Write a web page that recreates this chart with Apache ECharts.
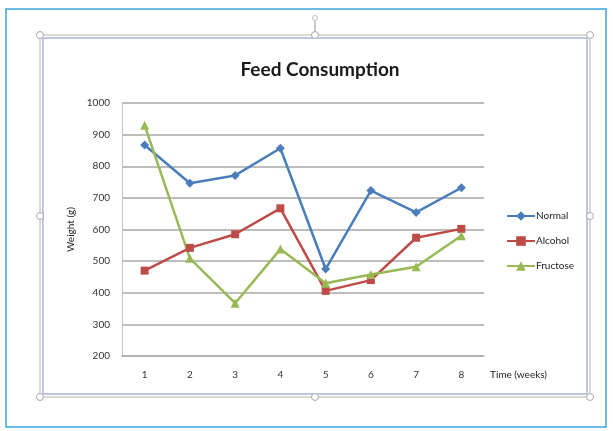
<!DOCTYPE html>
<html>
<head>
<meta charset="utf-8">
<script src="https://cdn.jsdelivr.net/npm/echarts@6/dist/echarts.min.js"></script>
<style>
  html, body { margin: 0; padding: 0; background: #ffffff; }
  #chart { width: 613px; height: 431px; }
</style>
</head>
<body>
<div id="chart"></div>
<script>
// Weekly feed consumption per diet group
const weeks = ['1', '2', '3', '4', '5', '6', '7', '8'];
const normal = [867, 746, 771, 857, 475, 723, 654, 732];
const alcohol = [470, 542, 585, 667, 406, 440, 574, 602];
const fructose = [930, 509, 367, 538, 430, 458, 482, 580];
const yTicks = { min: 200, max: 1000, step: 100 };

const FONT = 'Lato, "Open Sans", sans-serif';
const BLUE = '#4a7ebb';
const RED = '#be4b48';
const GREEN = '#98b954';

// Selection handles around the chart frame
const handlePts = [
  [40, 35], [315, 35], [590, 35],
  [40, 216], [590, 216],
  [40, 397], [315, 397], [590, 397]
];
const handles = handlePts.map(p => ({
  type: 'circle',
  shape: { cx: p[0], cy: p[1], r: 3.5 },
  style: { fill: '#ffffff', stroke: '#a8a8a8', lineWidth: 1 },
  z: 10
}));

function lineSeries(name, data, color, symbol, size) {
  return {
    name: name,
    type: 'line',
    data: data,
    symbol: symbol,
    symbolSize: size,
    lineStyle: { color: color, width: 2.5 },
    itemStyle: { color: color },
    emphasis: { disabled: true }
  };
}

const chart = echarts.init(document.getElementById('chart'), null, { renderer: 'canvas' });
chart.setOption({
  animation: false,
  backgroundColor: '#ffffff',
  title: {
    text: 'Feed Consumption',
    left: 315,
    top: 55,
    textAlign: 'center',
    textStyle: { fontFamily: FONT, fontSize: 19, fontWeight: 'bold', color: '#1a1a1a' }
  },
  legend: {
    orient: 'vertical',
    left: 501,
    top: 206,
    itemGap: 15,
    itemWidth: 28,
    itemHeight: 12,
    textStyle: { fontFamily: FONT, fontSize: 10, color: '#222', padding: [0, 0, 0, -4] },
    data: ['Normal', 'Alcohol', 'Fructose']
  },
  grid: { left: 122, top: 103, width: 362, height: 253, containLabel: false },
  xAxis: {
    type: 'category',
    data: weeks,
    boundaryGap: true,
    name: 'Time (weeks)',
    nameLocation: 'end',
    nameGap: 6,
    nameTextStyle: { fontFamily: FONT, fontSize: 10, color: '#222', verticalAlign: 'top', padding: [14, 0, 0, 0] },
    axisLine: { lineStyle: { color: '#b0b0b0', width: 1.5 } },
    axisTick: { show: false },
    axisLabel: { fontFamily: FONT, fontSize: 10, color: '#333', margin: 14 }
  },
  yAxis: {
    type: 'value',
    min: yTicks.min,
    max: yTicks.max,
    interval: yTicks.step,
    name: 'Weight (g)',
    nameLocation: 'middle',
    nameGap: 46,
    nameTextStyle: { fontFamily: FONT, fontSize: 10, color: '#222' },
    axisLine: { show: true, lineStyle: { color: '#c4c4c4', width: 1 } },
    axisTick: { show: false },
    axisLabel: { fontFamily: FONT, fontSize: 10, color: '#333', margin: 12, formatter: v => String(v) },
    splitLine: { show: true, lineStyle: { color: '#a6a6a6', width: 1.5 } }
  },
  series: [
    lineSeries('Normal', normal, BLUE, 'diamond', 9),
    lineSeries('Alcohol', alcohol, RED, 'rect', 8),
    lineSeries('Fructose', fructose, GREEN, 'triangle', 9)
  ],
  graphic: [
    // outer page border
    {
      type: 'rect',
      shape: { x: 6, y: 9, width: 600, height: 418 },
      style: { fill: null, stroke: '#39a6de', lineWidth: 1.5 },
      z: 1
    },
    // chart object frame
    {
      type: 'rect',
      shape: { x: 40, y: 35, width: 550, height: 362 },
      style: { fill: null, stroke: '#b4b4b4', lineWidth: 1 },
      z: 1
    },
    {
      type: 'rect',
      shape: { x: 43, y: 38, width: 544, height: 356 },
      style: { fill: null, stroke: '#b9c9e3', lineWidth: 2 },
      z: 1
    },
    // rotation handle above the frame
    {
      type: 'line',
      shape: { x1: 315, y1: 20, x2: 315, y2: 32 },
      style: { stroke: '#b8b8b8', lineWidth: 1.5 },
      z: 1
    },
    {
      type: 'circle',
      shape: { cx: 315, cy: 18, r: 2.5 },
      style: { fill: '#ffffff', stroke: '#c0c0c0', lineWidth: 1 },
      z: 1
    }
  ].concat(handles)
});
</script>
</body>
</html>
